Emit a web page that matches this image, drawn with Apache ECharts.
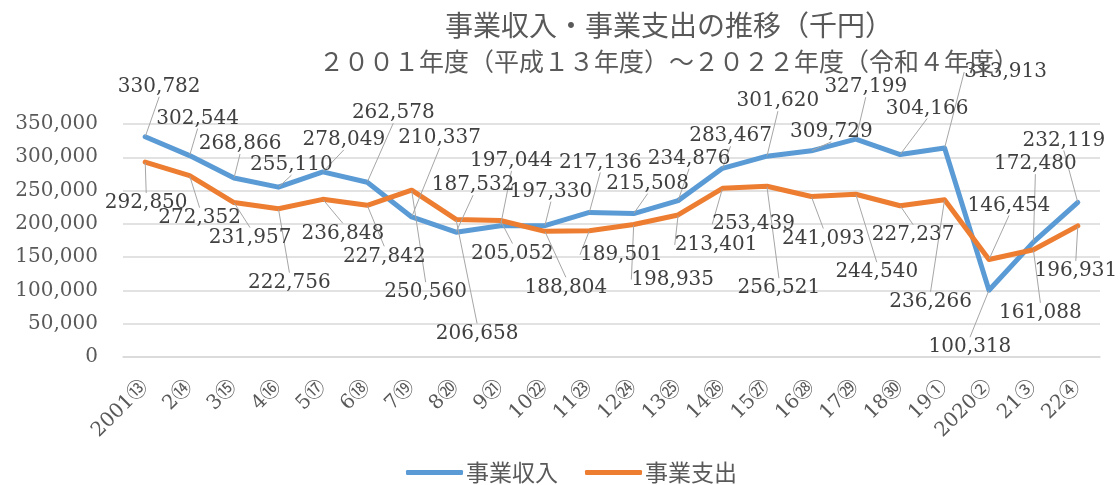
<!DOCTYPE html>
<html>
<head>
<meta charset="utf-8">
<title>事業収入・事業支出の推移</title>
<script src="https://cdn.jsdelivr.net/npm/echarts@6/dist/echarts.min.js"></script>
<style>
    html, body { margin: 0; padding: 0; background: #fff; }
    #main { width: 1120px; height: 485px; }
</style>
</head>
<body>
<div id="main"></div>
<script>
// 年度（西暦＋和暦）
var years = ['2001⑬', '2⑭', '3⑮', '4⑯', '5⑰', '6⑱', '7⑲', '8⑳', '9㉑', '10㉒', '11㉓',
    '12㉔', '13㉕', '14㉖', '15㉗', '16㉘', '17㉙', '18㉚', '19①', '2020②', '21③', '22④'];

// 事業収入（千円）
var income = [330782, 302544, 268866, 255110, 278049, 262578, 210337, 187532, 197044, 197330, 217136,
    215508, 234876, 283467, 301620, 309729, 327199, 304166, 313913, 100318, 172480, 232119];

// 事業支出（千円）
var expense = [292850, 272352, 231957, 222756, 236848, 227842, 250560, 206658, 205052, 188804, 189501,
    198935, 213401, 253439, 256521, 241093, 244540, 227237, 236266, 146454, 161088, 196931];

// y軸の目盛り
var yTicks = [0, 50000, 100000, 150000, 200000, 250000, 300000, 350000];

// ラベルのずらし量（点からの dx, dy）
var incomeLabelShift = [[14, -50], [8, -37], [6, -34], [13, -22], [21, -32], [26, -69], [28, -79], [17, -47],
    [11, -65], [6, -34], [11, -50], [14, -30], [11, -42], [8, -32], [11, -55], [20, -19], [10, -52],
    [27, -46], [61, -76], [-19, 57], [2, -78], [-14, -62]];
var expenseLabelShift = [[1, 41], [10, 42], [16, 35], [11, 74], [20, 34], [17, 51], [14, 102], [21, 114],
    [12, 33], [21, 56], [32, 24], [39, 55], [38, 30], [31, 36], [12, 102], [12, 42], [21, 78],
    [13, 29], [-14, 102], [20, -54], [7, 63], [-2, 45]];

(function (win) {
    var serif = "'DejaVu Serif', 'Noto Sans CJK JP', serif";
    var jp = "'Noto Sans CJK JP', sans-serif";

    // 3桁区切り
    function comma(v) {
        return String(v).replace(/\B(?=(\d{3})+(?!\d))/g, ',');
    }

    function makeSeries(name, values, color, shift) {
        return {
            name: name,
            type: 'line',
            data: values,
            symbol: 'circle',
            symbolSize: 1,
            showSymbol: true,
            itemStyle: { color: color },
            lineStyle: { color: color, width: 5, join: 'round', cap: 'round' },
            label: {
                show: true,
                position: 'inside',
                fontFamily: serif,
                fontSize: 20,
                color: '#404040',
                formatter: function (p) { return comma(p.value); }
            },
            labelLine: {
                show: true,
                lineStyle: { color: '#A6A6A6', width: 1 }
            },
            labelLayout: function (p) {
                var s = shift[p.dataIndex];
                return { dx: s[0], dy: s[1] };
            },
            animation: false
        };
    }

    var chart = echarts.init(document.getElementById('main'));
    chart.setOption({
        backgroundColor: '#ffffff',
        title: [{
            text: '事業収入・事業支出の推移（千円）',
            left: 664,
            top: 6,
            textAlign: 'center',
            textStyle: { fontFamily: jp, fontSize: 28, fontWeight: 'normal', color: '#595959' }
        }, {
            text: '２００１年度（平成１３年度）～２０２２年度（令和４年度）',
            left: 664,
            top: 44,
            textAlign: 'center',
            textStyle: { fontFamily: jp, fontSize: 25, fontWeight: 'normal', color: '#595959' }
        }],
        legend: {
            left: 406,
            top: 461,
            padding: 0,
            itemWidth: 57,
            itemHeight: 5,
            itemGap: 27,
            icon: 'roundRect',
            textStyle: { fontFamily: jp, fontSize: 23, color: '#595959', padding: [0, 0, 0, -2] },
            data: ['事業収入', '事業支出']
        },
        grid: { left: 123, right: 20, top: 124, bottom: 128 },
        xAxis: {
            type: 'category',
            data: years,
            boundaryGap: true,
            axisLine: { lineStyle: { color: '#D9D9D9', width: 1.5 } },
            axisTick: { show: false },
            axisLabel: {
                interval: 0,
                rotate: 45,
                margin: 27,
                fontFamily: serif,
                fontSize: 20,
                color: '#595959'
            }
        },
        yAxis: {
            type: 'value',
            min: yTicks[0],
            max: yTicks[yTicks.length - 1],
            interval: yTicks[1] - yTicks[0],
            axisLine: { show: false },
            axisTick: { show: false },
            splitLine: { lineStyle: { color: '#D9D9D9', width: 1.5 } },
            axisLabel: {
                margin: 25,
                fontFamily: serif,
                fontSize: 20,
                color: '#595959',
                formatter: function (v) { return comma(v); }
            }
        },
        series: [
            makeSeries('事業収入', income, '#5B9BD5', incomeLabelShift),
            makeSeries('事業支出', expense, '#ED7D31', expenseLabelShift)
        ]
    });
})(window);
</script>
</body>
</html>
